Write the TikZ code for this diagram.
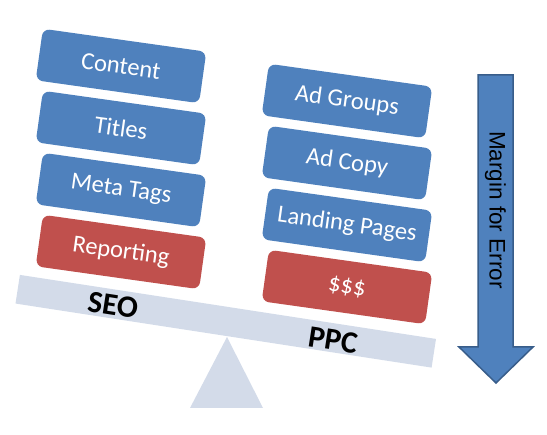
\documentclass[tikz,border=0pt]{standalone}
\usepackage{fontspec}
\setmainfont{Carlito}
\newfontfamily\arialf{Liberation Sans}
\definecolor{blk}{HTML}{4F81BD}
\definecolor{rblk}{HTML}{C0504D}
\definecolor{beamc}{HTML}{D3DBE9}
\definecolor{arrowline}{HTML}{385D8A}
\tikzset{
  card/.style={rectangle, rounded corners=7pt, minimum width=165pt, minimum height=52pt,
    inner sep=0pt, text=white, font=\fontsize{24.5}{28}\selectfont, rotate=-8},
  bluecard/.style={card, fill=blk},
  redcard/.style={card, fill=rblk},
  beamlabel/.style={font=\fontsize{31}{34}\selectfont\bfseries, text=black, rotate=-8.75, inner sep=0pt},
}
\begin{document}
\begin{tikzpicture}[x=1pt,y=-1pt]
\useasboundingbox (0,0) rectangle (547,435);
% fulcrum
\path[fill=beamc] (227,337) coordinate (apex) -- (263,408) -- (190,408) -- cycle;
% beam
\node[rectangle, fill=beamc, minimum width=421pt, minimum height=29pt, inner sep=0pt, rotate=-8.75] (beam) at (225.75,321.25) {};
\node[beamlabel] (seo) at (113,305) {SEO};
\node[beamlabel] (ppc) at (333,340) {PPC};
% left stack
\node[bluecard] (content) at (121,66) {Content};
\node[bluecard] (titles) at (121,128) {Titles};
\node[bluecard] (meta) at (121,190) {Meta Tags};
\node[redcard] (reporting) at (121,252) {Reporting};
% right stack
\node[bluecard] (adgroups) at (347,101) {Ad Groups};
\node[bluecard] (adcopy) at (347,163) {Ad Copy};
\node[bluecard] (landing) at (347,225) {Landing Pages};
\node[redcard] (money) at (347,287) {\$\$\$};
% margin arrow
\path[fill=blk, draw=arrowline, line width=1.5pt, line join=miter]
  (478,75) -- (513,75) -- (513,347) -- (533,347) -- (496,383) -- (459,347) -- (478,347) -- cycle;
\node[font=\arialf\fontsize{22.5}{26}\selectfont, rotate=-90, inner sep=0pt] (margin) at (495.5,210) {Margin for Error};
\end{tikzpicture}
\end{document}
